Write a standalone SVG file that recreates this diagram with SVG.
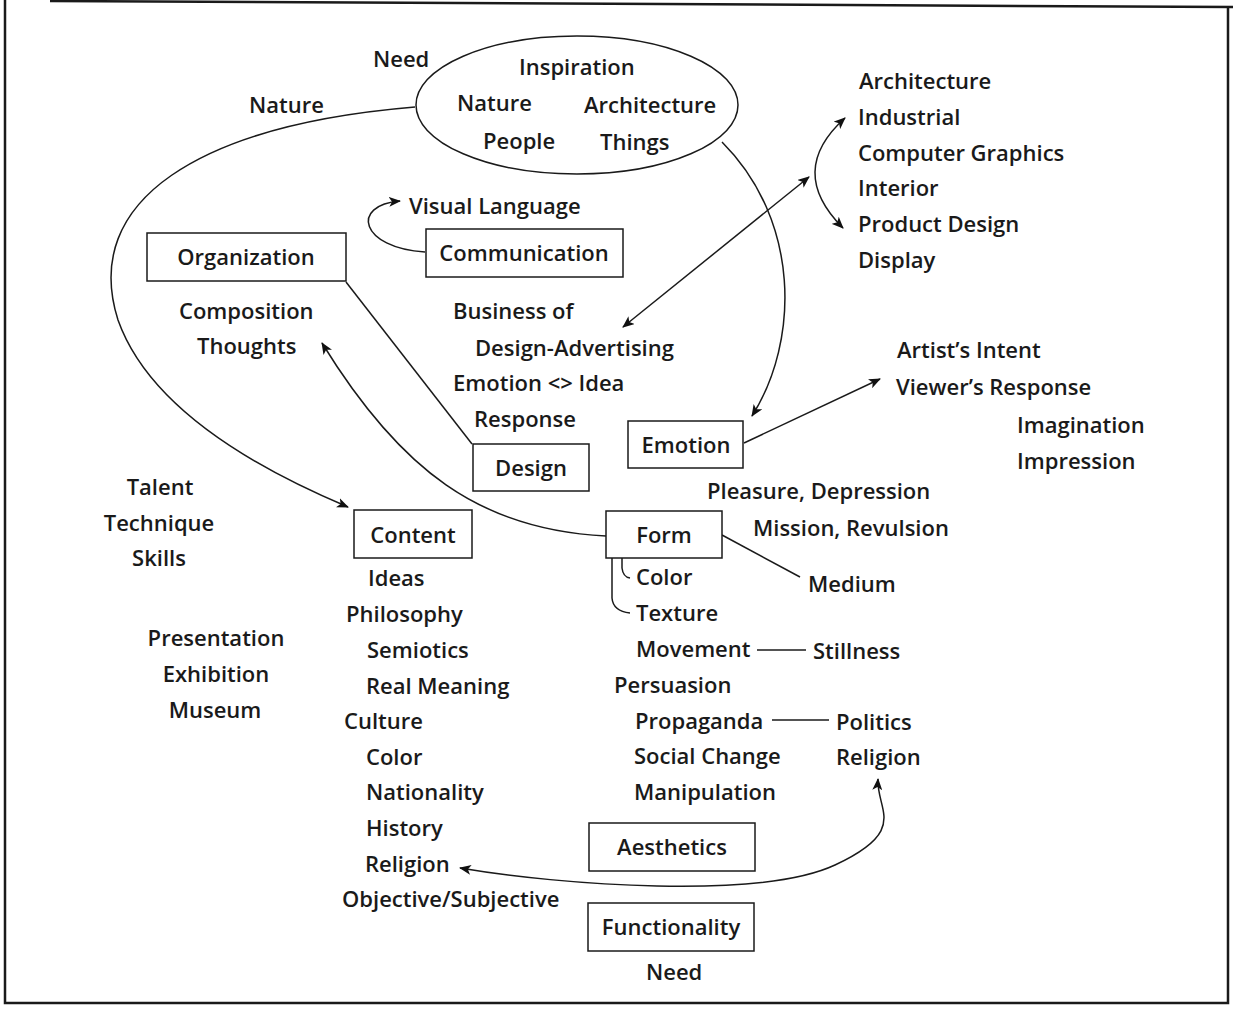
<svg xmlns="http://www.w3.org/2000/svg" width="1233" height="1009" viewBox="0 0 1233 1009">
<defs>
<marker id="ah" viewBox="0 0 12 10" refX="11" refY="5" markerWidth="12" markerHeight="10" markerUnits="userSpaceOnUse" orient="auto-start-reverse">
<path d="M0,0 L12,5 L0,10 L3,5 Z" fill="#111"/>
</marker>
<style>
text{font-family:"Open Sans","Noto Sans",sans-serif;font-size:22px;font-weight:600;fill:#1a1a1a}
.m{text-anchor:middle}
.box{fill:#fff;stroke:#1a1a1a;stroke-width:1.5}
.c{fill:none;stroke:#1a1a1a;stroke-width:1.5}
.b{fill:none;stroke:#1a1a1a;stroke-width:2.5}
</style>
</defs>
<rect width="1233" height="1009" fill="#fff"/>
<g id="border">
<path class="b" d="M5,0 L5,1003 L1228,1003 L1228,7 M50,1 L1233,7"/>
</g>
<g id="connectors">
<path class="c" d="M415,107 C200,125 80,200 118,320 C150,410 260,470 348,507" marker-end="url(#ah)"/>
<path class="c" d="M722,142 C800,220 800,340 752,416" marker-end="url(#ah)"/>
<path class="c" d="M623,327 L809,177" marker-start="url(#ah)" marker-end="url(#ah)"/>
<path class="c" d="M845,118 Q786,171 843,228" marker-start="url(#ah)" marker-end="url(#ah)"/>
<path class="c" d="M425,252 C360,248 350,205 400,201" marker-end="url(#ah)"/>
<path class="c" d="M346,282 L472,444"/>
<path class="c" d="M606,536 C480,530 400,470 322,343" marker-end="url(#ah)"/>
<path class="c" d="M744,443 L880,379" marker-end="url(#ah)"/>
<path class="c" d="M722,535 L800,577"/>
<path class="c" d="M612,558 L612,598 Q613,611 630,613"/>
<path class="c" d="M622,558 L622,568 Q623,577 630,578"/>
<path class="c" d="M757,650 L806,650"/>
<path class="c" d="M772,720 L829,720"/>
<path class="c" d="M460,868 C560,885 760,900 835,865 S876,810 878,779" marker-start="url(#ah)" marker-end="url(#ah)"/>
</g>
<g id="inspiration">
<ellipse class="c" cx="577" cy="105" rx="161" ry="69"/>
<text x="519" y="75">Inspiration</text>
<text x="457" y="111">Nature</text>
<text x="584" y="113">Architecture</text>
<text x="483" y="149">People</text>
<text x="600" y="150">Things</text>
</g>
<g id="labels-top">
<text x="373" y="67">Need</text>
<text x="249" y="113">Nature</text>
</g>
<g id="design-fields">
<text x="859" y="89">Architecture</text>
<text x="858" y="125">Industrial</text>
<text x="858" y="161">Computer Graphics</text>
<text x="858" y="196">Interior</text>
<text x="858" y="232">Product Design</text>
<text x="858" y="268">Display</text>
</g>
<g id="communication">
<rect class="box" x="426" y="229" width="197" height="48"/>
<text class="m" x="524" y="261">Communication</text>
<text x="409" y="214">Visual Language</text>
</g>
<g id="organization">
<rect class="box" x="147" y="233" width="199" height="48"/>
<text class="m" x="246" y="265">Organization</text>
<text x="179" y="319">Composition</text>
<text x="197" y="354">Thoughts</text>
</g>
<g id="business">
<text x="453" y="319">Business of</text>
<text x="475" y="356">Design-Advertising</text>
<text x="453" y="391">Emotion &lt;&gt; Idea</text>
<text x="474" y="427">Response</text>
</g>
<g id="design">
<rect class="box" x="473" y="444" width="116" height="47"/>
<text class="m" x="531" y="476">Design</text>
</g>
<g id="emotion">
<rect class="box" x="628" y="421" width="115" height="47"/>
<text class="m" x="686" y="453">Emotion</text>
<text x="897" y="358">Artist’s Intent</text>
<text x="896" y="395">Viewer’s Response</text>
<text x="1017" y="433">Imagination</text>
<text x="1017" y="469">Impression</text>
<text x="707" y="499">Pleasure, Depression</text>
<text x="753" y="536">Mission, Revulsion</text>
</g>
<g id="form">
<rect class="box" x="606" y="511" width="116" height="47"/>
<text class="m" x="664" y="543">Form</text>
<text x="808" y="592">Medium</text>
<text x="636" y="585">Color</text>
<text x="636" y="621">Texture</text>
<text x="636" y="657">Movement</text>
<text x="813" y="659">Stillness</text>
<text x="614" y="693">Persuasion</text>
<text x="635" y="729">Propaganda</text>
<text x="836" y="730">Politics</text>
<text x="634" y="764">Social Change</text>
<text x="836" y="765">Religion</text>
<text x="634" y="800">Manipulation</text>
</g>
<g id="content">
<rect class="box" x="354" y="510" width="118" height="48"/>
<text class="m" x="413" y="543">Content</text>
<text x="368" y="586">Ideas</text>
<text x="346" y="622">Philosophy</text>
<text x="367" y="658">Semiotics</text>
<text x="366" y="694">Real Meaning</text>
<text x="344" y="729">Culture</text>
<text x="366" y="765">Color</text>
<text x="366" y="800">Nationality</text>
<text x="366" y="836">History</text>
<text x="365" y="872">Religion</text>
<text x="342" y="907">Objective/Subjective</text>
</g>
<g id="skills">
<text class="m" x="160" y="495">Talent</text>
<text class="m" x="159" y="531">Technique</text>
<text class="m" x="159" y="566">Skills</text>
</g>
<g id="presentation">
<text class="m" x="216" y="646">Presentation</text>
<text class="m" x="216" y="682">Exhibition</text>
<text class="m" x="215" y="718">Museum</text>
</g>
<g id="aesthetics">
<rect class="box" x="589" y="823" width="166" height="48"/>
<text class="m" x="672" y="855">Aesthetics</text>
</g>
<g id="functionality">
<rect class="box" x="588" y="903" width="166" height="48"/>
<text class="m" x="671" y="935">Functionality</text>
<text x="646" y="980">Need</text>
</g>
</svg>
